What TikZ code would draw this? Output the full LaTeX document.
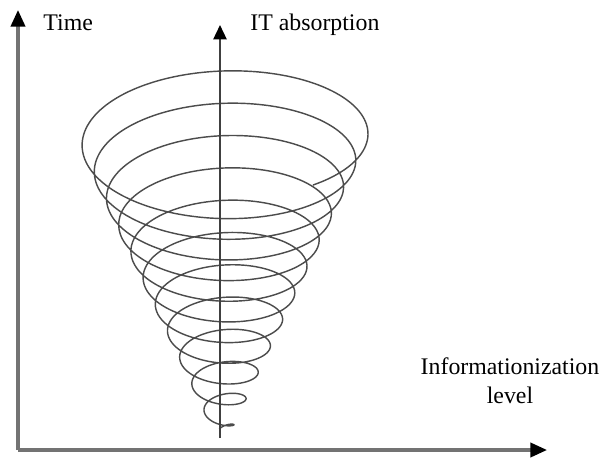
\documentclass[tikz,border=0pt]{standalone}
\usepackage{fontspec}
\setmainfont{Liberation Serif}
\usetikzlibrary{positioning,arrows.meta}

\begin{document}
\begin{tikzpicture}[
		x=0.42pt, y=-0.42pt,
		axis/.style={
			line width=1.3pt,
			draw=black!55,
			-{Triangle[length=7pt,width=6pt,color=black]}
		},
		midaxis/.style={
			line width=0.85pt,
			draw=black!75,
			-{Triangle[length=6pt,width=5.5pt,color=black]}
		},
		spiral/.style={
			line width=0.6pt,
			draw=black!70
		},
		every node/.style={
			font=\fontsize{10}{12}\selectfont,
			inner sep=0pt
		}
		]
		
		\useasboundingbox (0,0) rectangle (601,460);
		
		\coordinate (origin) at (18,450);
		\coordinate (timetip) at (18,10);
		\coordinate (leveltip) at (547,450);
		\coordinate (itbase) at (220,438);
		\coordinate (ittip) at (220,25);
		
		\draw[axis] (origin)--(timetip);
		\draw[axis] (origin)--(leveltip);
		
		% conical spiral, turns down to the tip
		\draw[spiral] plot[domain=-52:4070, samples=900, smooth, variable=\t]
			({222 + (146-12.2*(\t/360))*cos(\t)},
			 {133 + 26.5*(\t/360) - 0.48*(146-12.2*(\t/360))*sin(\t)});
		
		\draw[midaxis] (itbase)--(ittip);
		
		\node (time) [anchor=base west] at (43,30) {Time};
		\node (absorb) [anchor=base west] at (250,30) {IT absorption};
		\node (level) [align=center] at (510,381) {Informationization\\level};
		
	\end{tikzpicture}
\end{document}
